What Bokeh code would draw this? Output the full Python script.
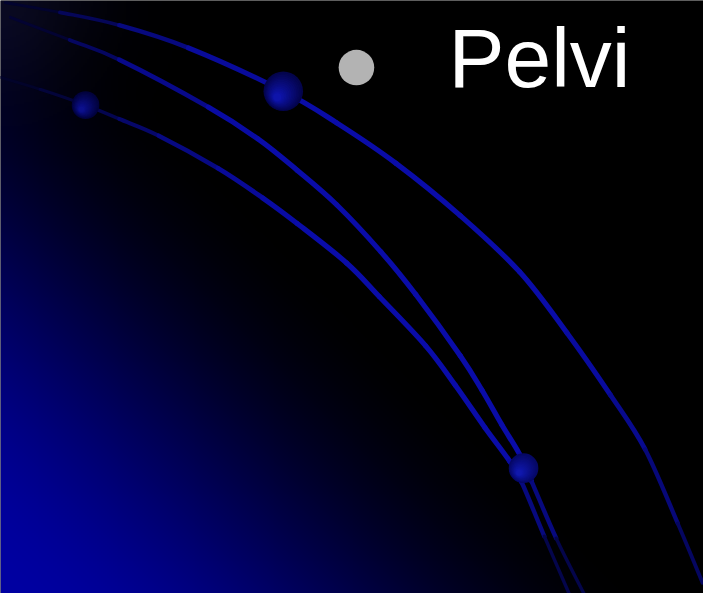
import numpy as np
from bokeh.plotting import figure
from bokeh.models import Range1d
from bokeh.core.properties import value
from bokeh.embed import file_html
from bokeh.resources import INLINE

# ---- content (pixel coordinates, y downward) ----
arc_a_x = [5, 60, 120, 190, 286, 340, 400, 465, 525, 573, 617, 652, 685, 710]
arc_a_y = [2, 12, 25, 48, 92, 124, 165, 218, 275, 337, 400, 455, 530, 590]
arc_a_shade = [0.15, 0.4, 0.65, 0.85, 1, 1, 1, 1, 1, 1, 0.9, 0.8, 0.65, 0.5]

arc_b_x = [10, 70, 120, 210, 260, 300, 340, 385, 420, 465, 487, 507, 525, 537, 562, 590]
arc_b_y = [17, 40, 60, 108, 140, 172, 207, 255, 298, 360, 395, 430, 460, 487, 545, 601]
arc_b_shade = [0.15, 0.45, 0.7, 0.95, 1, 1, 1, 1, 1, 1, 1, 1, 1, 0.9, 0.6, 0.3]

arc_c_x = [0, 40, 86, 120, 160, 220, 265, 300, 350, 383, 430, 460, 490, 515, 527, 550, 575]
arc_c_y = [78, 90, 106, 120, 137, 170, 200, 226, 266, 300, 350, 390, 433, 467, 488, 543, 601]
arc_c_shade = [0.2, 0.3, 0.4, 0.55, 0.7, 0.85, 0.95, 1, 1, 1, 1, 1, 1, 1, 0.9, 0.6, 0.3]

sphere_x = [286, 86, 529]
sphere_y = [92, 106, 474]
sphere_r = [20, 14, 15]

bullet_x = [360]
bullet_y = [68]
title_text = ["Pelvi"]
title_x = [453]
title_y = [11]

W, H = 711, 601
M = 8

p = figure(width=W - M, height=H - M, output_backend="svg", toolbar_location=None,
           x_range=Range1d(0, W), y_range=Range1d(H, 0),
           min_border=0, background_fill_color="black", border_fill_color="black",
           outline_line_color=None)
p.axis.visible = False
p.grid.visible = False

# background gradient (blue glow from lower-left corner)
NX, NY = 356, 301
xs = (np.arange(NX) + 0.5) * W / NX
ys = (np.arange(NY) + 0.5) * H / NY
XX, YY = np.meshgrid(xs, ys)
u = XX + (H - YY)
t = np.clip(u / 660.0, 0, 1)
s = 3 * t ** 2 - 2 * t ** 3
b = 162 * (1 - s) + 30 * np.exp(-(XX ** 2 + YY ** 2) / (2 * 70.0 ** 2))
rg = 10 * np.exp(-(XX ** 2 + YY ** 2) / (2 * 60.0 ** 2))
img = np.zeros((NY, NX), dtype=np.uint32)
view = img.view(dtype=np.uint8).reshape((NY, NX, 4))
view[:, :, 0] = np.clip(rg, 0, 255).astype(np.uint8)
view[:, :, 1] = np.clip(rg, 0, 255).astype(np.uint8)
view[:, :, 2] = np.clip(b, 0, 255).astype(np.uint8)
view[:, :, 3] = 255
p.image_rgba(image=[img], x=0, y=0, dw=W, dh=H)

# arcs drawn as smooth bezier pieces through the read points
base = np.array([10, 12, 168])
for ax_, ay_, sh_ in [(arc_a_x, arc_a_y, arc_a_shade), (arc_b_x, arc_b_y, arc_b_shade), (arc_c_x, arc_c_y, arc_c_shade)]:
    P = np.column_stack([ax_, ay_]).astype(float)
    n = len(P)
    Pm = np.vstack([P[0], P, P[-1]])
    c0 = P[:-1] + (Pm[2:n + 1] - Pm[0:n - 1]) / 6.0
    c1 = P[1:] - (Pm[3:n + 2] - Pm[1:n]) / 6.0
    shades = [(a + b_) / 2 for a, b_ in zip(sh_[:-1], sh_[1:])]
    cols = ["#%02x%02x%02x" % tuple(int(c) for c in base * k) for k in shades]
    widths = [2.0 + 3.2 * k for k in shades]
    p.bezier(x0=P[:-1, 0], y0=P[:-1, 1], x1=P[1:, 0], y1=P[1:, 1],
             cx0=c0[:, 0], cy0=c0[:, 1], cx1=c1[:, 0], cy1=c1[:, 1],
             line_color=cols, line_width=widths, line_cap="round")

# shaded spheres
outer_cols = [(4, 4, 75), (2, 2, 60), (6, 8, 100)]
inner_cols = [(14, 20, 170), (12, 16, 140), (16, 24, 172)]
N = 14
for cx, cy, r, oc, ic in zip(sphere_x, sphere_y, sphere_r, outer_cols, inner_cols):
    lx, ly, lr, lc = [], [], [], []
    for k in range(N):
        tt = k / (N - 1)
        lx.append(cx - 0.3 * r * tt)
        ly.append(cy + 0.3 * r * tt)
        lr.append(r * (1 - 0.8 * tt))
        col = tuple(int(o + (i - o) * tt) for o, i in zip(oc, ic))
        lc.append("#%02x%02x%02x" % col)
    p.circle(x=lx, y=ly, radius=lr, fill_color=lc, line_color=None)

# bullet and title
p.circle(x=bullet_x, y=bullet_y, radius=18, fill_color="#b3b3b3", line_color=None)
p.text(x=title_x, y=title_y, text=title_text, text_font=value("Liberation Sans"),
       text_font_size="84px", text_color="white", text_baseline="top", text_align="left")

open("out.html", "w").write(file_html(p, INLINE))
